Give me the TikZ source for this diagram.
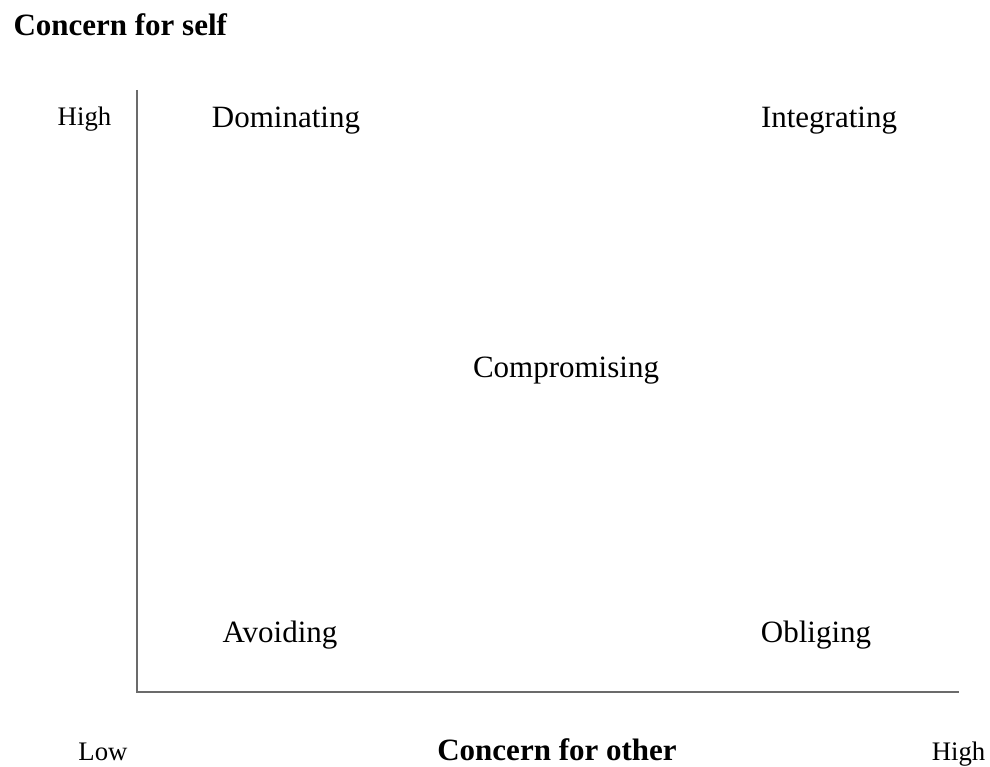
\documentclass[tikz,border=0pt]{standalone}
\usepackage{fontspec}
\setmainfont{Liberation Serif}
\usepackage{tikz}

\tikzset{
    label/.style={anchor=base, inner sep=0pt, font=\fontsize{12.4}{15}\selectfont},
    level/.style={label, font=\fontsize{10.7}{13}\selectfont},
    title/.style={label, font=\fontsize{12.4}{15}\selectfont\bfseries},
    axis/.style={draw=black!58, line width=0.8pt}
}

\begin{document}
\begin{tikzpicture}[x=0.4pt, y=-0.4pt]
    \useasboundingbox (0,0) rectangle (990,766);
    % Axes
    \coordinate (ytop) at (137,90);
    \coordinate (origin) at (137,692);
    \coordinate (xend) at (959,692);
    \draw [axis] (ytop) -- (origin) -- (xend);
    % Axis titles and ends
    \node [title, anchor=base west] (selftitle) at (13,36) {Concern for self};
    \node [title] (othertitle) at (557,760) {Concern for other};
    \node [level] (yhigh) at (84.5,125) {High};
    \node [level] (xlow) at (103,760) {Low};
    \node [level] (xhigh) at (958.5,760) {High};
    % Conflict styles
    \node [label] (dominating) at (286,127) {Dominating};
    \node [label] (integrating) at (829,127) {Integrating};
    \node [label] (compromising) at (566,377) {Compromising};
    \node [label] (avoiding) at (280,642) {Avoiding};
    \node [label] (obliging) at (816,642) {Obliging};
\end{tikzpicture}
\end{document}
